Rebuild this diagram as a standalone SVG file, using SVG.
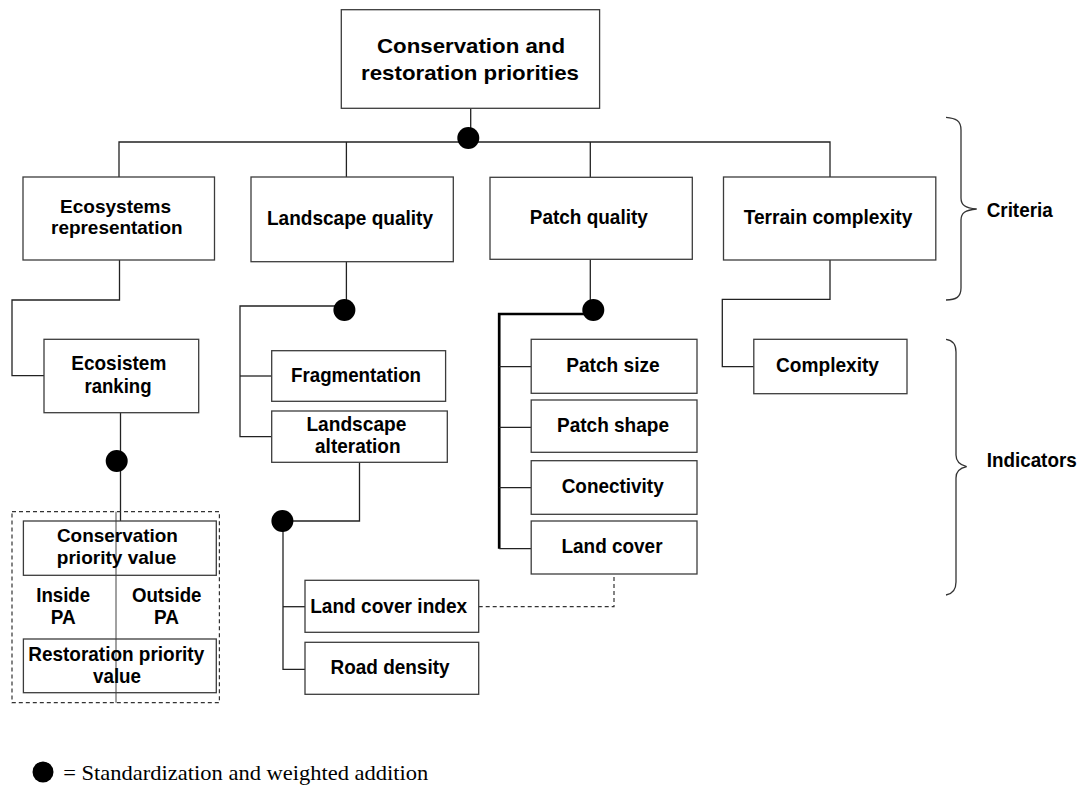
<svg xmlns="http://www.w3.org/2000/svg" width="1083" height="785" viewBox="0 0 1083 785">
  <style>
    .box { fill: #ffffff; stroke: #3c3c3c; stroke-width: 1.3; }
    .ln { fill: none; stroke: #222222; stroke-width: 1.3; }
    .thick { fill: none; stroke: #000000; stroke-width: 2.7; }
    .dash { fill: none; stroke: #333333; stroke-width: 1.2; stroke-dasharray: 4 3; }
    .thin { fill: none; stroke: #444444; stroke-width: 1; }
    .brace { fill: none; stroke: #333333; stroke-width: 1.3; }
    .dot { fill: #000000; }
    text { font-family: "Liberation Sans", Arial, sans-serif; font-weight: bold; font-size: 20.5px; fill: #000000; }
    .c { text-anchor: middle; }
    .tight { font-size: 18.5px; }
    .title { font-size: 21px; }
    .legend { font-family: "Liberation Serif", "Times New Roman", serif; font-weight: normal; font-size: 22px; }
  </style>

  <!-- connectors -->
  <g id="connectors">
    <!-- root to criteria -->
    <path class="ln" d="M470.7,108 V138"/>
    <path class="ln" d="M119,177 V142 H830 V177"/>
    <path class="ln" d="M346.4,142 V177"/>
    <path class="ln" d="M590.3,142 V177"/>
    <!-- ecosystems representation to ecosistem ranking -->
    <path class="ln" d="M119.5,260 V300 H12 V375.7 H44"/>
    <!-- ecosistem ranking to priority values -->
    <path class="ln" d="M120.5,412.7 V521"/>
    <path class="thin" d="M116,511.7 V702.7"/>
    <!-- landscape quality -->
    <path class="ln" d="M346.4,261.7 V310"/>
    <path class="ln" d="M344,306 H240 V436.7 H271.7"/>
    <path class="ln" d="M240,376 H271.7"/>
    <!-- landscape alteration -->
    <path class="ln" d="M359.5,462.3 V521 H282.4"/>
    <path class="ln" d="M283,521 V669.3 H305"/>
    <path class="ln" d="M283,606.7 H305"/>
    <!-- patch quality -->
    <path class="ln" d="M590.3,259.3 V310"/>
    <path class="thick" d="M593,314 H499.2 V548.7"/>
    <path class="ln" d="M499.2,366.7 H531.2"/>
    <path class="ln" d="M499.2,427.3 H531.2"/>
    <path class="ln" d="M499.2,487.7 H531.2"/>
    <path class="ln" d="M499.2,548.7 H531.2"/>
    <!-- terrain complexity -->
    <path class="ln" d="M830,260 V299.3 H722.3 V366.7 H753.8"/>
    <!-- land cover link -->
    <path class="dash" d="M478.7,606.7 H614 V574"/>
    <!-- aggregation dots -->
    <circle class="dot" cx="468.3" cy="138" r="11"/>
    <circle class="dot" cx="344.4" cy="310" r="11"/>
    <circle class="dot" cx="593.3" cy="310" r="11"/>
    <circle class="dot" cx="116.7" cy="461" r="11"/>
    <circle class="dot" cx="282.4" cy="521" r="11"/>
  </g>

  <!-- root -->
  <g id="node-root">
    <rect class="box" x="341.3" y="9.7" width="258.3" height="98.6"/>
    <text class="c title" x="471" y="53.3" textLength="188" lengthAdjust="spacingAndGlyphs">Conservation and</text>
    <text class="c title" x="470" y="80" textLength="218" lengthAdjust="spacingAndGlyphs">restoration priorities</text>
  </g>

  <!-- criteria -->
  <g id="node-ecosystems">
    <rect class="box" x="23" y="177" width="191.5" height="83"/>
    <text class="c tight" x="115.6" y="212.5" textLength="111" lengthAdjust="spacingAndGlyphs">Ecosystems</text>
    <text class="c tight" x="116.8" y="234" textLength="131.5" lengthAdjust="spacingAndGlyphs">representation</text>
  </g>
  <g id="node-landscape">
    <rect class="box" x="251" y="177" width="202.3" height="84.7"/>
    <text class="c" x="350" y="225" textLength="166" lengthAdjust="spacingAndGlyphs">Landscape quality</text>
  </g>
  <g id="node-patch">
    <rect class="box" x="490" y="177.3" width="202.3" height="82"/>
    <text class="c" x="588.8" y="224" textLength="118" lengthAdjust="spacingAndGlyphs">Patch quality</text>
  </g>
  <g id="node-terrain">
    <rect class="box" x="723.5" y="177" width="212.3" height="83"/>
    <text class="c" x="828" y="224" textLength="168.6" lengthAdjust="spacingAndGlyphs">Terrain complexity</text>
  </g>

  <!-- indicators: ecosystems -->
  <g id="node-ecosistem-ranking">
    <rect class="box" x="44" y="339.3" width="154.7" height="73.4"/>
    <text class="c" x="118.8" y="370" textLength="95" lengthAdjust="spacingAndGlyphs">Ecosistem</text>
    <text class="c" x="118" y="392.7" textLength="67" lengthAdjust="spacingAndGlyphs">ranking</text>
  </g>
  <g id="node-priority-values">
    <rect class="dash" x="12" y="511.7" width="207.4" height="191"/>
    <rect class="box" x="23.4" y="521" width="192.9" height="54.3" fill-opacity="0"/>
    <text class="c tight" x="117.4" y="542" textLength="121" lengthAdjust="spacingAndGlyphs">Conservation</text>
    <text class="c tight" x="116.6" y="564" textLength="119.5" lengthAdjust="spacingAndGlyphs">priority value</text>
    <text class="c" x="63.2" y="601.7" textLength="54" lengthAdjust="spacingAndGlyphs">Inside</text>
    <text class="c" x="63.2" y="624" textLength="25" lengthAdjust="spacingAndGlyphs">PA</text>
    <text class="c" x="166.7" y="601.7" textLength="69.5" lengthAdjust="spacingAndGlyphs">Outside</text>
    <text class="c" x="166.5" y="624" textLength="25" lengthAdjust="spacingAndGlyphs">PA</text>
    <rect class="box" x="23.4" y="639" width="192.9" height="53.7" fill-opacity="0"/>
    <text class="c" x="116.2" y="660.7" textLength="176" lengthAdjust="spacingAndGlyphs">Restoration priority</text>
    <text class="c" x="117" y="682.7" textLength="48" lengthAdjust="spacingAndGlyphs">value</text>
  </g>

  <!-- indicators: landscape -->
  <g id="node-fragmentation">
    <rect class="box" x="271.7" y="350.7" width="173.9" height="50.6"/>
    <text class="c" x="356" y="381.7" textLength="130" lengthAdjust="spacingAndGlyphs">Fragmentation</text>
  </g>
  <g id="node-alteration">
    <rect class="box" x="271.7" y="411" width="175.6" height="51.3"/>
    <text class="c" x="356.4" y="431" textLength="100" lengthAdjust="spacingAndGlyphs">Landscape</text>
    <text class="c" x="357.8" y="453.3" textLength="85.5" lengthAdjust="spacingAndGlyphs">alteration</text>
  </g>
  <g id="node-land-cover-index">
    <rect class="box" x="305" y="580.3" width="173.7" height="52"/>
    <text class="c" x="388.7" y="612.7" textLength="157" lengthAdjust="spacingAndGlyphs">Land cover index</text>
  </g>
  <g id="node-road-density">
    <rect class="box" x="305" y="642.3" width="173.7" height="52"/>
    <text class="c" x="390" y="674.3" textLength="119" lengthAdjust="spacingAndGlyphs">Road density</text>
  </g>

  <!-- indicators: patch -->
  <g id="node-patch-size">
    <rect class="box" x="531.2" y="339.3" width="165.8" height="54"/>
    <text class="c" x="612.9" y="372.3" textLength="93.5" lengthAdjust="spacingAndGlyphs">Patch size</text>
  </g>
  <g id="node-patch-shape">
    <rect class="box" x="531.2" y="400" width="165.8" height="52.3"/>
    <text class="c" x="613" y="432.3" textLength="112" lengthAdjust="spacingAndGlyphs">Patch shape</text>
  </g>
  <g id="node-conectivity">
    <rect class="box" x="531.2" y="460.7" width="165.8" height="53.6"/>
    <text class="c" x="612.7" y="493.3" textLength="102" lengthAdjust="spacingAndGlyphs">Conectivity</text>
  </g>
  <g id="node-land-cover">
    <rect class="box" x="531.2" y="521" width="165.8" height="53"/>
    <text class="c" x="612" y="553.3" textLength="101" lengthAdjust="spacingAndGlyphs">Land cover</text>
  </g>

  <!-- indicators: terrain -->
  <g id="node-complexity">
    <rect class="box" x="753.8" y="339.3" width="153.2" height="54.4"/>
    <text class="c" x="827.5" y="372.3" textLength="103" lengthAdjust="spacingAndGlyphs">Complexity</text>
  </g>

  <!-- level braces -->
  <g id="label-criteria">
    <path class="brace" d="M946,117.3 C956,118 961,121 961,130 L961,198 C961,205 965,208 976.7,209 C965,210 961,213 961,220 L961,288 C961,297 956,300 946,300"/>
    <text x="986.7" y="216.7" textLength="66" lengthAdjust="spacingAndGlyphs">Criteria</text>
  </g>
  <g id="label-indicators">
    <path class="brace" d="M946,339.3 C952,340 956,344 956,352 L956,455 C956,462 960,465 966.7,466.7 C960,468 956,471 956,478 L956,582 C956,590 952,594 946,595"/>
    <text x="986.7" y="467.3" textLength="90" lengthAdjust="spacingAndGlyphs">Indicators</text>
  </g>

  <!-- legend -->
  <g id="legend">
    <circle class="dot" cx="43" cy="772" r="10.5"/>
    <text class="legend" x="63.3" y="780" textLength="365" lengthAdjust="spacingAndGlyphs">= Standardization and weighted addition</text>
  </g>
</svg>
